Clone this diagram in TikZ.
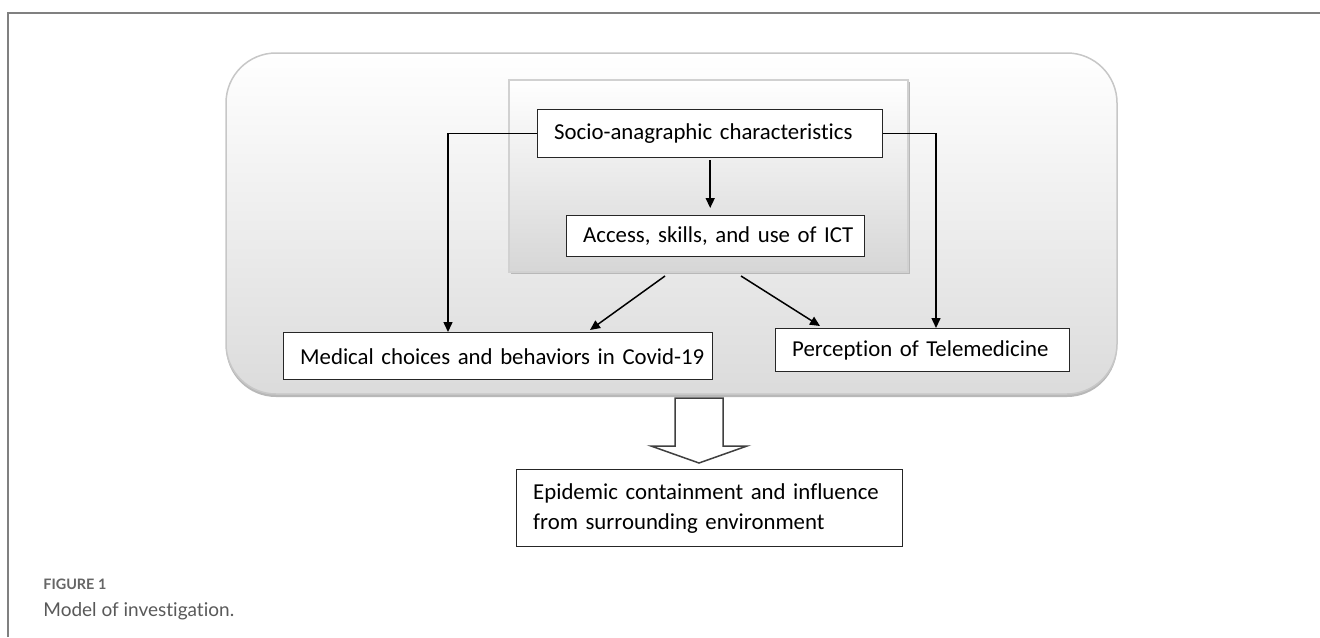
\documentclass[tikz,border=0pt]{standalone}
\usepackage{fontspec}
\setmainfont{Carlito}[Ligatures={NoCommon}]
\newfontfamily\capfont{Lato}[Ligatures={NoCommon}]
\usetikzlibrary{arrows.meta}
\begin{document}
\begin{tikzpicture}[x=0.5pt,y=-0.5pt,
  box/.style={draw=black!85, line width=0.7pt, fill=white, inner xsep=8.25pt, inner ysep=0pt,
    font=\fontsize{11.4}{15}\selectfont, align=left, anchor=north west},
  arr/.style={draw=black, line width=0.75pt, -{Triangle[length=5pt,width=4.5pt]}},
  panel/.style={line width=0.75pt, top color=white},
  shadowc/.style={fill=black!28}
]
\useasboundingbox (0,0) rectangle (1320,637);
\fill[white] (0,0) rectangle (1320,637);
% page frame
\draw[black!50, line width=1pt] (8,637) -- (8,13) -- (1320,13);
% outer rounded panel
\fill[shadowc, rounded corners=25pt] (226,56) rectangle (1117,397);
\draw[panel, draw=black!22, bottom color=black!14, rounded corners=25pt] (226,53) rectangle (1117,394);
% inner panel
\fill[shadowc] (511,82) rectangle (910,274);
\draw[panel, draw=black!18, bottom color=black!16] (509,80) rectangle (908,272);
% boxes
\node[box, text width=156pt, minimum height=24pt] (socio) at (537,109) {\mbox{Socio-anagraphic characteristics}};
\node[box, text width=132.5pt, minimum height=20.5pt] (access) at (566,215) {\mbox{Access, skills, and use of ICT}};
\node[box, text width=198pt, minimum height=23.5pt] (medical) at (283,332) {\mbox{Medical choices and behaviors in Covid-19}};
\node[box, text width=130.5pt, minimum height=21.5pt] (percep) at (775,328) {\mbox{Perception of Telemedicine}};
\node[box, text width=176.5pt, minimum height=38.5pt] (epid) at (516,469) {\mbox{Epidemic containment and influence}\\\mbox{from surrounding environment}};
% connectors
\coordinate (L) at (448,0);
\coordinate (R) at (936,0);
\draw[arr] (socio.west) -| (medical.north -| L);
\draw[arr] (socio.east) -| (percep.north -| R);
\draw[arr, shorten <=1pt, shorten >=3.5pt] (socio.south) -- (socio.south |- access.north);
\coordinate (d1) at (665,276);
\coordinate (d1e) at (590,330);
\coordinate (d2) at (741,276);
\coordinate (d2e) at (820,326);
\draw[arr] (d1) -- (d1e);
\draw[arr] (d2) -- (d2e);
% block arrow
\draw[draw=black!75, line width=0.75pt, fill=white, line join=miter]
  (675,398) -- (723,398) -- (723,446) -- (747,446) -- (699,463) -- (651,446) -- (675,446) -- cycle;
% caption
\node[anchor=base west, inner sep=0pt, font=\capfont\bfseries\fontsize{7.2}{8}\selectfont, text=black!60] (figlab) at (43,589) {FIGURE 1};
\node[anchor=base west, inner sep=0pt, font=\capfont\fontsize{9.5}{11}\selectfont, text=black!65] (figcap) at (43,616) {Model of investigation.};
\end{tikzpicture}
\end{document}
